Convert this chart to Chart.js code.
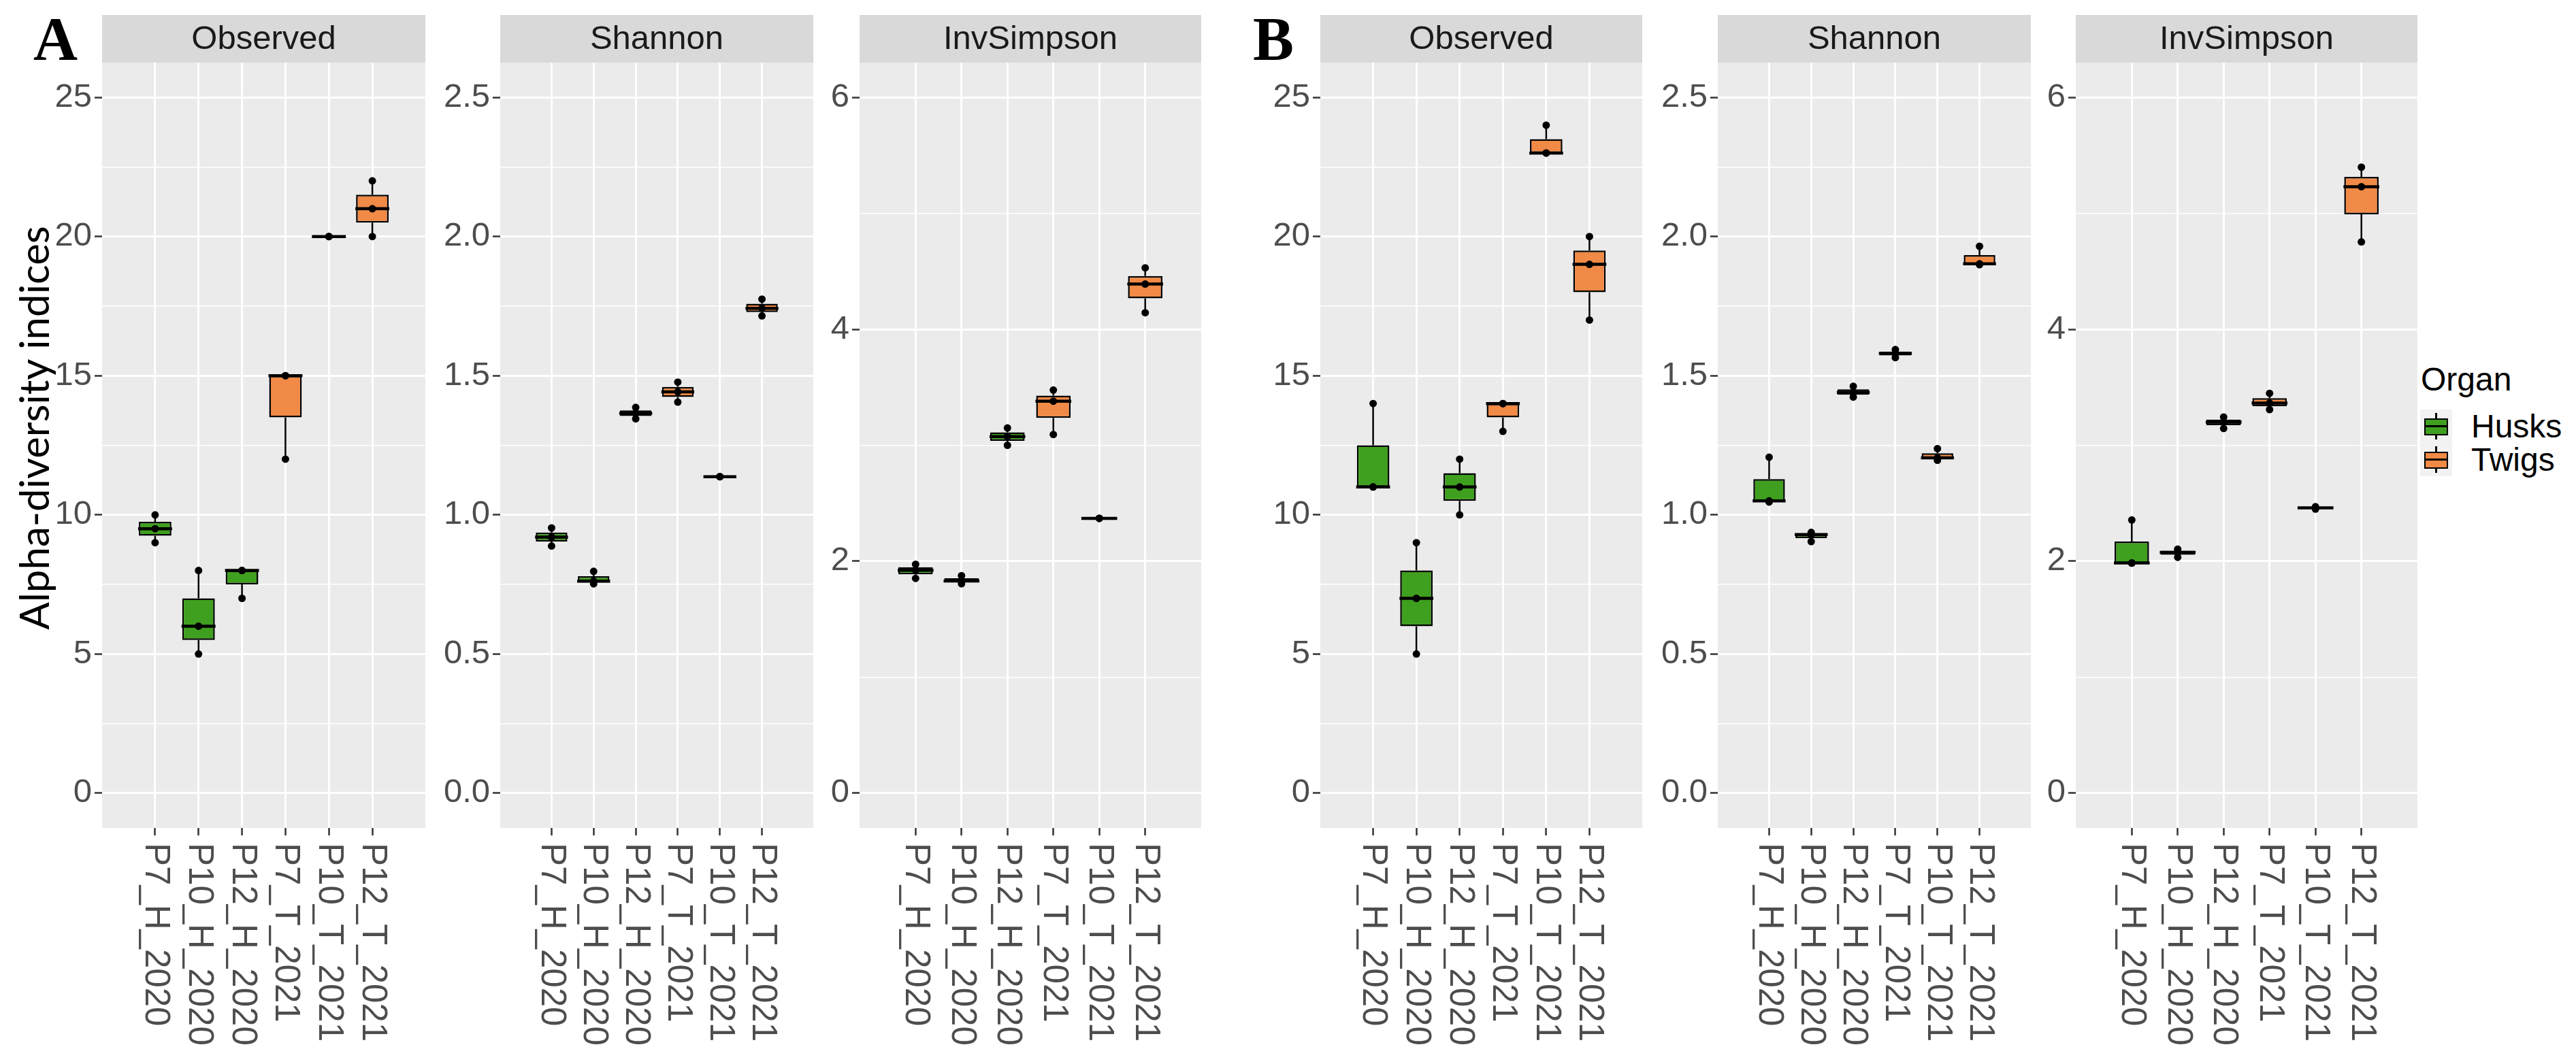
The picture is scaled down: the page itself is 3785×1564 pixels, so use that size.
<!DOCTYPE html>
<html>
<head>
<meta charset="utf-8">
<script src="https://cdn.jsdelivr.net/npm/chart.js@4.4.1/dist/chart.umd.min.js"></script>
<style>
  body { margin: 0; background: #fff; }
  #fig { position: relative; width: 3785px; height: 1564px; overflow: hidden; font-family: "Liberation Sans", Arial, sans-serif; }
  #fig canvas { position: absolute; top: 0; }
  .tag { position: absolute; font-family: "Liberation Serif", "Times New Roman", serif; font-weight: bold; font-size: 90px; line-height: 90px; color: #000; }
  .ytitle { position: absolute; left: 49px; top: 629px; transform: translate(-50%, -50%) rotate(-90deg); font-family: Lato, sans-serif; font-size: 60px; white-space: nowrap; color: #000; }
  .legend-title { position: absolute; left: 3557px; top: 534px; font-size: 48px; line-height: 48px; color: #000; }
  .key { position: absolute; left: 3556px; width: 47px; height: 49px; background: #F2F2F2; }
  .key .wh { position: absolute; left: 22px; width: 3px; top: 5px; height: 39px; background: #000; }
  .key .bx { position: absolute; left: 6px; width: 31px; top: 13px; height: 21px; border: 2px solid #000; }
  .key .md { position: absolute; left: 6px; width: 35px; top: 23px; height: 3px; background: #000; }
  .key-label { position: absolute; left: 3631px; font-size: 48px; line-height: 49px; color: #000; }
</style>
</head>
<body>
<div id="fig">
  <div class="tag" style="left:49px;top:13px;">A</div>
  <div class="tag" style="left:1841px;top:13px;">B</div>
  <div class="ytitle">Alpha-diversity indices</div>
  <div class="legend-title">Organ</div>
  <div class="key" style="top:602px;"><div class="wh"></div><div class="bx" style="background:#3F9F1F;"></div><div class="md"></div></div>
  <div class="key-label" style="top:602px;">Husks</div>
  <div class="key" style="top:651px;"><div class="wh"></div><div class="bx" style="background:#F08A46;"></div><div class="md"></div></div>
  <div class="key-label" style="top:651px;">Twigs</div>
</div>
<script>
// sample groups (x axis) and their organ
const categories = ['P7_H_2020', 'P10_H_2020', 'P12_H_2020', 'P7_T_2021', 'P10_T_2021', 'P12_T_2021'];
const organ = ['Husks', 'Husks', 'Husks', 'Twigs', 'Twigs', 'Twigs'];

// replicate values, one array of 3 per group
const observedA = [[9, 9.5, 10], [5, 6, 8], [7, 8, 8], [12, 15, 15], [20, 20, 20], [20, 21, 22]];
const shannonA = [[0.888, 0.92, 0.953], [0.752, 0.762, 0.797], [1.345, 1.365, 1.386], [1.405, 1.442, 1.477], [1.137, 1.137, 1.137], [1.715, 1.742, 1.775]];
const invSimpsonA = [[1.852, 1.922, 1.974], [1.806, 1.83, 1.875], [3.0, 3.075, 3.149], [3.093, 3.38, 3.476], [2.37, 2.37, 2.37], [4.143, 4.39, 4.53]];
const observedB = [[11, 11, 14], [5, 7, 9], [10, 11, 12], [13, 14, 14], [23, 23, 24], [17, 19, 20]];
const shannonB = [[1.046, 1.05, 1.207], [0.904, 0.929, 0.937], [1.423, 1.44, 1.462], [1.565, 1.58, 1.594], [1.196, 1.205, 1.238], [1.899, 1.902, 1.965]];
const invSimpsonB = [[1.983, 1.985, 2.356], [2.034, 2.076, 2.104], [3.145, 3.2, 3.243], [3.308, 3.364, 3.448], [2.45, 2.46, 2.47], [4.754, 5.23, 5.398]];

// y axis ticks per index
const observedTicks = [0, 5, 10, 15, 20, 25];
const observedLabels = ['0', '5', '10', '15', '20', '25'];
const shannonTicks = [0, 0.5, 1, 1.5, 2, 2.5];
const shannonLabels = ['0.0', '0.5', '1.0', '1.5', '2.0', '2.5'];
const invSimpsonTicks = [0, 2, 4, 6];
const invSimpsonLabels = ['0', '2', '4', '6'];

const organColors = { Husks: '#3F9F1F', Twigs: '#F08A46' };

Chart.defaults.font.family = '"Liberation Sans", Arial, sans-serif';

function quantile(s, p) {
  const h = (s.length - 1) * p, lo = Math.floor(h);
  return lo + 1 < s.length ? s[lo] + (h - lo) * (s[lo + 1] - s[lo]) : s[lo];
}
function boxStats(vals) {
  const s = [...vals].sort((a, b) => a - b);
  return { min: s[0], q1: quantile(s, 0.25), med: quantile(s, 0.5), q3: quantile(s, 0.75), max: s[s.length - 1] };
}

const panelPlugin = {
  id: 'panel',
  beforeDraw(chart, args, opts) {
    const { ctx, chartArea: a } = chart;
    ctx.save();
    ctx.fillStyle = '#EBEBEB';
    ctx.fillRect(a.left, a.top, a.right - a.left, a.bottom - a.top);
    ctx.fillStyle = '#D9D9D9';
    ctx.fillRect(a.left, a.top - 70, a.right - a.left, 70);
    ctx.fillStyle = '#1A1A1A';
    ctx.font = '49px "Liberation Sans", Arial, sans-serif';
    ctx.textAlign = 'center';
    ctx.textBaseline = 'middle';
    ctx.fillText(opts.strip, (a.left + a.right) / 2, a.top - 34);
    ctx.restore();
  },
  afterDatasetDraw(chart, args, opts) {
    if (args.meta.type !== 'bar') return;
    const { ctx } = chart;
    const y = chart.scales.y;
    ctx.save();
    ctx.strokeStyle = '#000';
    args.meta.data.forEach((bar, i) => {
      const st = opts.stats[i];
      const { x, width } = bar.getProps(['x', 'width'], true);
      // whiskers
      ctx.lineWidth = 2.5;
      ctx.beginPath();
      ctx.moveTo(x, y.getPixelForValue(st.q3));
      ctx.lineTo(x, y.getPixelForValue(st.max));
      ctx.moveTo(x, y.getPixelForValue(st.q1));
      ctx.lineTo(x, y.getPixelForValue(st.min));
      ctx.stroke();
      // median
      ctx.lineWidth = 4.5;
      ctx.beginPath();
      ctx.moveTo(x - width / 2 - 1, y.getPixelForValue(st.med));
      ctx.lineTo(x + width / 2 + 1, y.getPixelForValue(st.med));
      ctx.stroke();
    });
    ctx.restore();
  },
  afterDraw(chart) {
    const { ctx, chartArea: a } = chart;
    const xs = chart.scales.x;
    ctx.save();
    ctx.fillStyle = '#4D4D4D';
    ctx.font = '51px "Liberation Sans", Arial, sans-serif';
    ctx.textAlign = 'left';
    ctx.textBaseline = 'middle';
    categories.forEach((c, i) => {
      ctx.save();
      ctx.translate(xs.getPixelForValue(i), a.bottom + 22);
      ctx.rotate(Math.PI / 2);
      ctx.fillText(c, 0, 0);
      ctx.restore();
    });
    ctx.restore();
  }
};

function makePanel(left, width, strip, samples, ticks, labels, minorTicks) {
  const canvas = document.createElement('canvas');
  canvas.width = Math.round(width) + 128;
  canvas.height = 1564;
  canvas.style.left = (left - 120) + 'px';
  document.getElementById('fig').appendChild(canvas);

  const stats = samples.map(boxStats);
  const colors = organ.map(o => organColors[o]);
  const lo = ticks[0], hi = ticks[ticks.length - 1];
  const pad = (hi - lo) * 0.05;
  const isMajor = v => ticks.some(t => Math.abs(t - v) < 1e-9);
  const allTicks = [...ticks, ...minorTicks].sort((a, b) => a - b);

  new Chart(canvas.getContext('2d'), {
    type: 'bar',
    data: {
      datasets: [
        {
          type: 'scatter',
          data: samples.flatMap((vals, i) => vals.map(v => ({ x: i, y: v }))),
          pointRadius: 5.5,
          pointBackgroundColor: '#000',
          pointBorderWidth: 0
        },
        {
          type: 'bar',
          data: stats.map((st, i) => ({ x: i, y: [st.q1, st.q3] })),
          backgroundColor: colors,
          borderColor: '#000',
          borderWidth: 2.5,
          borderSkipped: false,
          barPercentage: 0.75,
          categoryPercentage: 1
        }
      ]
    },
    options: {
      responsive: false,
      animation: false,
      events: [],
      layout: { padding: { left: 0, top: 92, right: 8, bottom: 0 } },
      plugins: {
        legend: { display: false },
        tooltip: { enabled: false },
        panel: { strip: strip, stats: stats }
      },
      scales: {
        x: {
          type: 'linear',
          min: -0.6,
          max: categories.length - 0.4,
          afterBuildTicks: s => { s.ticks = categories.map((c, i) => ({ value: i })); },
          afterFit: s => { s.height = 347; },
          ticks: { display: false },
          grid: { color: '#FFFFFF', lineWidth: 3, tickColor: '#333333', tickLength: 11, tickWidth: 2.5, offset: false },
          border: { display: false }
        },
        y: {
          type: 'linear',
          min: lo - pad,
          max: hi + pad,
          afterBuildTicks: s => { s.ticks = allTicks.map(v => ({ value: v })); },
          afterFit: s => { s.width = 120; },
          ticks: {
            autoSkip: false,
            color: '#4D4D4D',
            font: { size: 49 },
            padding: 4,
            callback: v => {
              const k = ticks.findIndex(t => Math.abs(t - v) < 1e-9);
              return k >= 0 ? labels[k] : '';
            }
          },
          grid: {
            color: '#FFFFFF',
            lineWidth: c => isMajor(c.tick.value) ? 3 : 1.5,
            tickColor: c => isMajor(c.tick.value) ? '#333333' : 'rgba(0,0,0,0)',
            tickLength: 11,
            tickWidth: 2.5
          },
          border: { display: false }
        }
      }
    },
    plugins: [panelPlugin]
  });
}

makePanel(150, 474.5, 'Observed', observedA, observedTicks, observedLabels, [2.5, 7.5, 12.5, 17.5, 22.5]);
makePanel(735, 459.5, 'Shannon', shannonA, shannonTicks, shannonLabels, [0.25, 0.75, 1.25, 1.75, 2.25]);
makePanel(1263, 502, 'InvSimpson', invSimpsonA, invSimpsonTicks, invSimpsonLabels, [1, 3, 5]);
makePanel(1940, 473, 'Observed', observedB, observedTicks, observedLabels, [2.5, 7.5, 12.5, 17.5, 22.5]);
makePanel(2524, 460, 'Shannon', shannonB, shannonTicks, shannonLabels, [0.25, 0.75, 1.25, 1.75, 2.25]);
makePanel(3050, 502, 'InvSimpson', invSimpsonB, invSimpsonTicks, invSimpsonLabels, [1, 3, 5]);
</script>
</body>
</html>
